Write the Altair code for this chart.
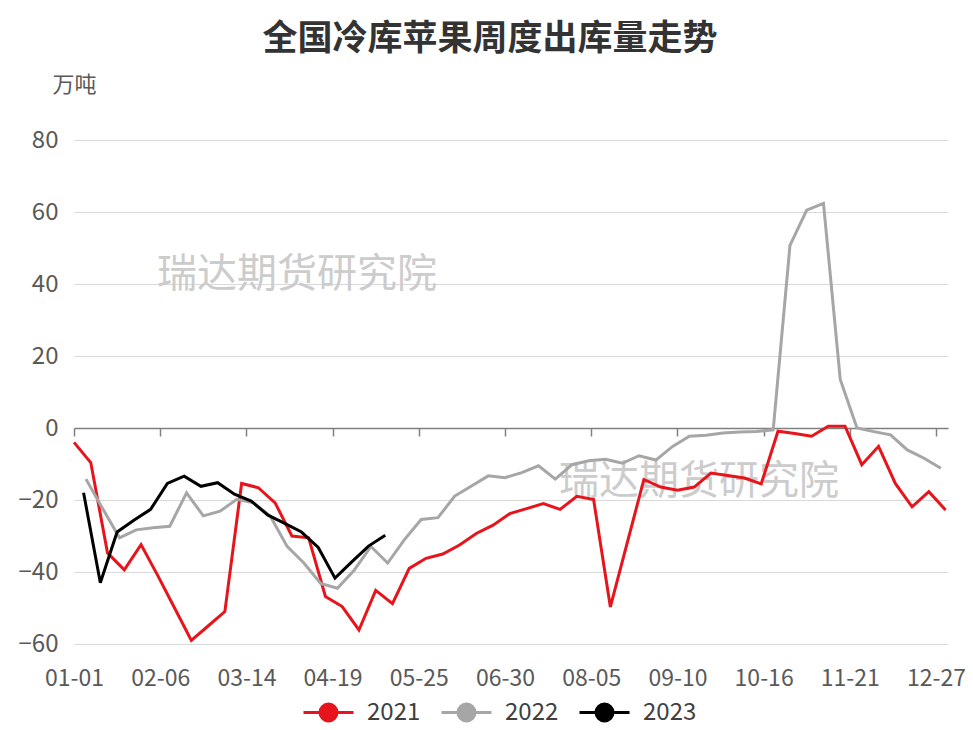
import altair as alt
import pandas as pd

title_text = "全国冷库苹果周度出库量走势"
unit_text = "万吨"
watermark_text = "瑞达期货研究院"

series_names = ["2021", "2022", "2023"]
series_colors = ["#e8141c", "#a6a6a6", "#000000"]
start_dates = ["2021-01-01", "2022-01-06", "2023-01-05"]

v2021 = [-4.0, -9.6, -34.7, -39.4, -32.4, -41.0, -50.0, -59.0, -55.0, -51.0,
         -15.4, -16.6, -20.8, -30.0, -30.5, -46.8, -49.6, -56.1, -45.1, -48.8,
         -39.0, -36.2, -35.0, -32.5, -29.3, -27.0, -23.8, -22.4, -21.0, -22.6,
         -19.0, -19.9, -49.7, -32.0, -14.3, -16.4, -17.3, -16.4, -12.5, -13.2,
         -13.9, -15.5, -0.9, -1.5, -2.3, 0.5, 0.5, -10.2, -5.1, -15.4,
         -21.9, -17.7, -22.8]
v2022 = [-14.2, -22.4, -30.5, -28.3, -27.7, -27.3, -18.0, -24.4, -23.1, -19.8,
         -20.8, -24.5, -32.9, -37.5, -43.2, -44.5, -39.5, -32.9, -37.5, -31.0,
         -25.4, -24.9, -18.9, -16.1, -13.3, -13.8, -12.4, -10.5, -14.2, -10.2,
         -9.1, -8.7, -9.8, -7.7, -8.9, -5.1, -2.3, -2.0, -1.4, -1.1,
         -1.0, -0.5, 50.7, 60.5, 62.4, 13.5, 0.0, -1.0, -1.9, -6.1,
         -8.4, -11.2]
v2023 = [-18.0, -43.0, -28.9, -25.6, -22.6, -15.4, -13.4, -16.2, -15.2, -18.4,
         -20.3, -24.2, -26.5, -28.9, -33.2, -41.7, -37.2, -32.8, -29.8]

tick_labels = ["01-01", "02-06", "03-14", "04-19", "05-25", "06-30",
               "08-05", "09-10", "10-16", "11-21", "12-27"]
y_ticks = [-60, -40, -20, 0, 20, 40, 60, 80]

rows = []
for name, start, vals in zip(series_names, start_dates, [v2021, v2022, v2023]):
    dates = pd.date_range(start, periods=len(vals), freq="7D")
    for d, v in zip(dates, vals):
        rows.append({"series": name, "day": int(d.dayofyear) - 1, "value": v})
df = pd.DataFrame(rows)

tick_days = [int(pd.Timestamp("2021-" + s).dayofyear) - 1 for s in tick_labels]

label_font = "Noto Sans CJK SC"
cjk_font = "Noto Sans CJK SC"

legend_path = ("M-1,0L1,0M0.34,0A0.34,0.34,0,1,1,-0.34,0"
               "A0.34,0.34,0,1,1,0.34,0Z")

x_enc = alt.X(
    "day:Q",
    scale=alt.Scale(domain=[0, 365], nice=False, zero=False),
    axis=alt.Axis(
        values=tick_days,
        labelExpr="timeFormat(datetime(2021, 0, 1 + datum.value), '%m-%d')",
        offset=-216,
        domainColor="#808080",
        domainWidth=1.5,
        tickColor="#808080",
        tickWidth=1.5,
        tickSize=8,
        labelPadding=231,
        labelFont=label_font,
        labelFontSize=23,
        labelColor="#595959",
        grid=False,
        title=None,
        labelOverlap=False,
        labelBound=False,
        labelFlush=False,
    ),
)

y_enc = alt.Y(
    "value:Q",
    scale=alt.Scale(domain=[-60, 80], nice=False, zero=False),
    axis=alt.Axis(
        values=y_ticks,
        domain=False,
        ticks=False,
        grid=True,
        gridColor="#d9d9d9",
        gridWidth=1.2,
        labelPadding=16,
        labelFont=label_font,
        labelFontSize=24,
        labelColor="#595959",
        title=unit_text,
        titleFont=cjk_font,
        titleFontSize=22,
        titleFontWeight="normal",
        titleColor="#595959",
        titleAngle=0,
        titleAlign="left",
        titleBaseline="middle",
        titleX=-22,
        titleY=-56,
    ),
)

legend = alt.Legend(
    title=None,
    orient="none",
    legendX=228,
    legendY=546,
    direction="horizontal",
    symbolType=legend_path,
    symbolSize=2500,
    symbolStrokeWidth=3,
    symbolOpacity=1,
    labelFont=label_font,
    labelFontSize=24,
    labelColor="#404040",
    labelOffset=12,
    columnPadding=14,
)
color_enc = alt.Color(
    "series:N",
    scale=alt.Scale(domain=series_names, range=series_colors),
    legend=legend,
)

lines = alt.Chart(df).mark_line(strokeWidth=3).encode(
    x=x_enc, y=y_enc, color=color_enc, order="day:Q"
)
# invisible filled points so that the legend symbols get a filled marker
dots = alt.Chart(df).mark_point(filled=True, size=0, opacity=1).encode(
    x=x_enc, y=y_enc, color=color_enc
)

wm_df = pd.DataFrame({"t": [watermark_text]})
wm1 = alt.Chart(wm_df).mark_text(
    font=cjk_font, fontSize=40, color="#cccccc", align="center", baseline="middle"
).encode(text="t:N", x=alt.value(223), y=alt.value(135))
wm2 = alt.Chart(wm_df).mark_text(
    font=cjk_font, fontSize=40, color="#cccccc", align="center", baseline="middle"
).encode(text="t:N", x=alt.value(625), y=alt.value(342))

chart = alt.layer(wm1, wm2, lines, dots).properties(
    width=874,
    height=504,
    title=alt.TitleParams(
        text=title_text,
        font=cjk_font,
        fontSize=35,
        fontWeight="bold",
        color="#333333",
        anchor="middle",
        dx=-21,
        dy=-12,
    ),
    autosize=alt.AutoSizeParams(type="none"),
    padding={"left": 66, "top": 132, "right": 17, "bottom": 80},
).configure_view(stroke=None)

chart.save("out.html", embed_options={"renderer": "svg", "actions": False})
